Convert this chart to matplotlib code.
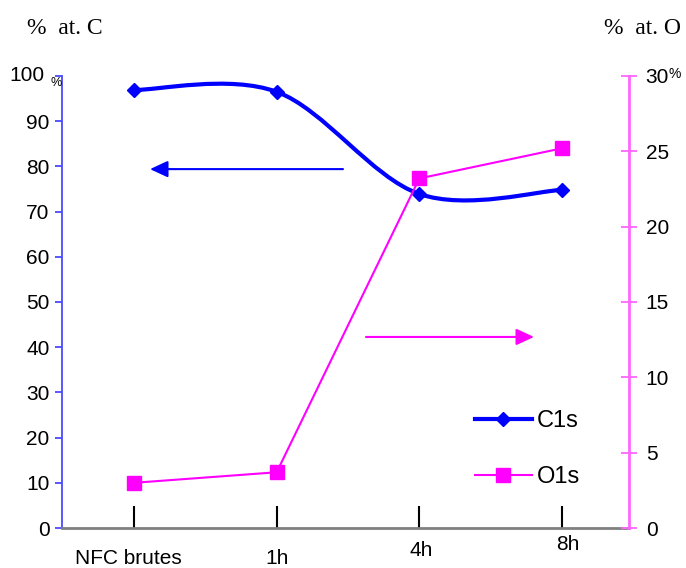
import matplotlib
matplotlib.use('Agg')
import matplotlib.pyplot as plt
from matplotlib.path import Path
from matplotlib.patches import PathPatch
from matplotlib.lines import Line2D
import numpy as np

plt.rcParams['font.family'] = ['Liberation Sans', 'DejaVu Sans']

categories = ['NFC brutes', '1h', '4h', '8h']
c1s = [96.9, 96.5, 73.9, 74.8]        # % at. C (left axis)
o1s = [3.0, 3.7, 23.2, 25.2]          # % at. O (right axis)
left_ticks = [0, 10, 20, 30, 40, 50, 60, 70, 80, 90, 100]
right_ticks = [0, 5, 10, 15, 20, 25, 30]

BLUE = '#0000ff'
PINK = '#ff00ff'


def smooth_path(xs, ys):
    # Excel style smoothed line: cubic bezier, tangents from neighbours
    xs = np.asarray(xs, float)
    ys = np.asarray(ys, float)
    n = len(xs)
    pts = np.column_stack([xs, ys])
    tang = np.zeros_like(pts)
    for i in range(n):
        a = pts[max(i - 1, 0)]
        b = pts[min(i + 1, n - 1)]
        tang[i] = (b - a) / 2
    verts = [pts[0]]
    codes = [Path.MOVETO]
    for i in range(n - 1):
        verts += [pts[i] + tang[i] / 3, pts[i + 1] - tang[i + 1] / 3, pts[i + 1]]
        codes += [Path.CURVE4] * 3
    return Path(verts, codes)


fig = plt.figure(figsize=(6.86, 5.68), dpi=100)
ax = fig.add_axes([62 / 686, 1 - 528 / 568, (629 - 62) / 686, (528 - 76) / 568])
ax2 = ax.twinx()

x = np.arange(len(categories))
ax.set_xlim(-0.505, 3.47)
ax.set_ylim(0, 100)
ax2.set_ylim(0, 30)

# C1s smoothed line + diamonds
ax.add_patch(PathPatch(smooth_path(x, c1s), fill=False, edgecolor=BLUE, lw=3, zorder=3))
ax.plot(x, c1s, ls='none', marker='D', ms=7, color=BLUE, zorder=4)

# O1s straight line + squares
ax2.plot(x, o1s, '-', color=PINK, lw=1.5, marker='s', ms=10, zorder=4)

# arrows pointing to the axes
ax.annotate('', xy=(0.112, 79.4), xytext=(1.465, 79.4),
            arrowprops=dict(arrowstyle='-|>,head_length=1.08,head_width=0.5',
                            mutation_scale=10, color=BLUE, lw=1.5,
                            shrinkA=0, shrinkB=0))
ax2.annotate('', xy=(2.804, 12.68), xytext=(1.626, 12.68),
             arrowprops=dict(arrowstyle='-|>,head_length=1.08,head_width=0.5',
                             mutation_scale=10, color=PINK, lw=1.5,
                             shrinkA=0, shrinkB=0))

# spines
for a in (ax, ax2):
    a.spines['top'].set_visible(False)
ax.spines['left'].set_color('#4a4aff')
ax.spines['left'].set_linewidth(1.3)
ax.spines['bottom'].set_color('#808080')
ax.spines['bottom'].set_linewidth(2)
ax.spines['right'].set_visible(False)
ax2.spines['left'].set_visible(False)
ax2.spines['bottom'].set_visible(False)
ax2.spines['right'].set_color('#ff66ff')
ax2.spines['right'].set_linewidth(2)

# left axis ticks
ax.set_yticks(left_ticks)
ax.set_yticklabels([str(v) for v in left_ticks[:-1]] + [''])
ax.tick_params(axis='y', direction='out', length=5, width=1.3, color='#4a4aff',
               labelsize=15, pad=4)
ax.text(-0.030, 1.0, str(left_ticks[-1]), transform=ax.transAxes, ha='right',
        va='center', fontsize=15)
ax.text(-0.001, 0.985, '%', transform=ax.transAxes, ha='right', va='center', fontsize=9)

# right axis ticks
ax2.set_yticks(right_ticks)
ax2.tick_params(axis='y', direction='inout', length=12, width=1.3, color='#ff66ff',
                labelsize=15, pad=6)
ax2.text(1.0705, 1.004, '%', transform=ax2.transAxes, ha='left', va='center', fontsize=10)

# x ticks
ax.set_xticks(x)
ax.set_xticklabels([])
ax.tick_params(axis='x', direction='in', length=16, width=1.5, color='black')
label_x = [128, 277, 421, 568]
label_y = [558, 558, 550, 544]
for lab, px, py in zip(categories, label_x, label_y):
    fig.text(px / 686, 1 - py / 568, lab, ha='center', va='center', fontsize=15)

# axis titles
fig.text(27 / 686, 1 - 28 / 568, '%  at. C', family='Liberation Serif', fontsize=17,
         ha='left', va='center')
fig.text(681 / 686, 1 - 28 / 568, '%  at. O', family='Liberation Serif', fontsize=17,
         ha='right', va='center')

# legend
handles = [Line2D([], [], color=BLUE, lw=3, marker='D', ms=7),
           Line2D([], [], color=PINK, lw=1.5, marker='s', ms=10)]
fig.legend(handles, ['C1s', 'O1s'], loc='center left',
           bbox_to_anchor=(475 / 686, 1 - 449 / 568), frameon=False,
           fontsize=17, handlelength=2.4, handletextpad=0.2, labelspacing=1.45,
           borderpad=0, borderaxespad=0)

fig.savefig('out.png', dpi=100)
